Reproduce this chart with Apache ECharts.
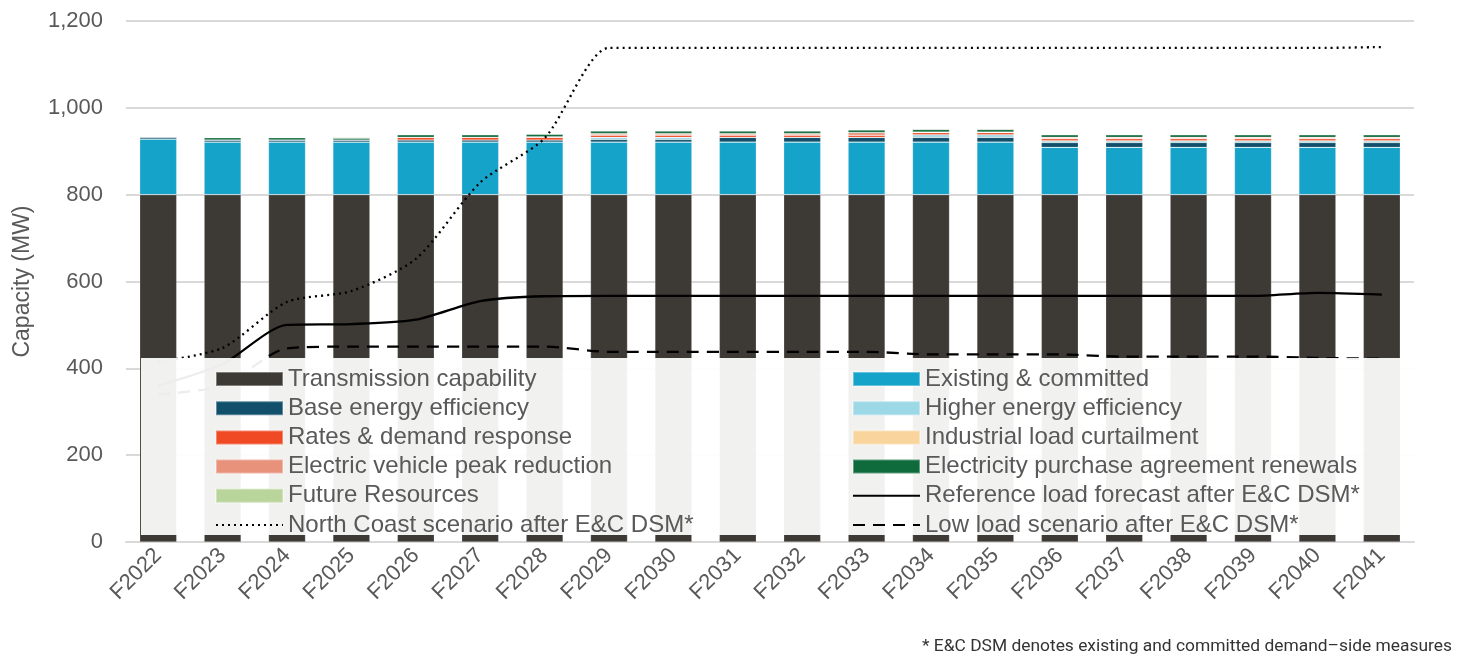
<!DOCTYPE html>
<html>
<head>
<meta charset="utf-8">
<script src="https://cdn.jsdelivr.net/npm/echarts@6/dist/echarts.min.js"></script>
<style>html,body{margin:0;padding:0;background:#fff;}#chart{width:1471px;height:664px;}</style>
</head>
<body>
<div id="chart"></div>
<script>
const categories = ['F2022','F2023','F2024','F2025','F2026','F2027','F2028','F2029','F2030','F2031','F2032','F2033','F2034','F2035','F2036','F2037','F2038','F2039','F2040','F2041'];
const transmission = [800,800,800,800,800,800,800,800,800,800,800,800,800,800,800,800,800,800,800,800];
const existing = [128,121,121,121,121,121,121,121,121,121,121,121,121,121,109,109,109,109,109,109];
const baseEE = [5,5,5,5,5,5,5,6,6,11,11,11,11,11,11,11,11,11,11,11];
const higherEE = [0,0,0,0,0,0,0,5,5,0,0,0,6,6,4,4,4,4,4,4];
const rates = [0,0,0,0,6,6,6,5,5,5,5,5,5,5,5,5,5,5,5,5];
const industrial = [0,0,0,0,0,0,0,1,1,1,1,0,0,0,0,0,0,0,0,0];
const evPeak = [0,0,0,0,0,0,1,3,3,3,3,6,1,1,3,3,3,3,3,3];
const epa = [0,5,5,4,6,6,6,6,6,6,6,6,6,6,6,6,6,6,6,6];
const future = [0,1,1,2,0,0,0,0,0,0,0,1,1,1,0,0,0,0,0,0];
const reference = [360,410,500,502,512,555,566,567,567,567,567,567,567,567,567,567,567,567,574,570];
const northCoast = [415,447,553,578,652,828,930,1138,1138,1138,1138,1138,1138,1138,1138,1138,1138,1138,1138,1140];
const lowLoad = [340,360,446,450,450,450,450,438,438,438,438,438,432,432,432,427,427,427,424,422];
const yTicks = [0,200,400,600,800,1000,1200];

const FONT = '"Liberation Sans", Arial, sans-serif';
const TXT = '#595959';

function bar(name, data, color) {
  return { name, type: 'bar', stack: 'cap', data, barWidth: 37, z: 2,
    itemStyle: { color, borderColor: 'rgba(255,255,255,0.35)', borderWidth: 0.6 },
    emphasis: { disabled: true } };
}
function line(name, data, dash) {
  return { name, type: 'line', data, smooth: 0.25, symbol: 'none', z: 2,
    lineStyle: { color: '#000', width: 2.3, type: dash, cap: dash === 'solid' ? 'butt' : 'butt' },
    itemStyle: { color: '#000' }, emphasis: { disabled: true } };
}
const legendText = { fontSize: 24, fontFamily: FONT, color: TXT, lineHeight: 24 };
const noSym = { opacity: 0 };

const chart = echarts.init(document.getElementById('chart'), null, { renderer: 'canvas' });
chart.setOption({
  animation: false,
  backgroundColor: '#fff',
  grid: { left: 126, right: 57, top: 21, bottom: 122 },
  title: {
    text: '* E&C DSM denotes existing and committed demand\u2013side measures',
    right: 14, bottom: 4,
    textStyle: { fontFamily: 'Roboto, "Noto Sans", sans-serif', fontSize: 17.4, fontWeight: 'normal', color: '#333' }
  },
  xAxis: {
    type: 'category', data: categories,
    axisLine: { lineStyle: { color: '#d9d9d9', width: 2 } },
    axisTick: { show: false },
    axisLabel: { rotate: 45, fontSize: 22, fontFamily: FONT, color: TXT, margin: 10 }
  },
  yAxis: {
    type: 'value', min: yTicks[0], max: yTicks[yTicks.length - 1], interval: 200,
    name: 'Capacity (MW)', nameLocation: 'middle', nameGap: 92, nameRotate: 90,
    nameTextStyle: { fontSize: 23, fontFamily: FONT, color: TXT },
    axisLine: { show: false }, axisTick: { show: false },
    axisLabel: { fontSize: 22, fontFamily: FONT, color: TXT, margin: 23,
      formatter: v => v.toLocaleString('en-US') },
    splitLine: { lineStyle: { color: '#d9d9d9', width: 2 } }
  },
  graphic: { elements: [
    { type: 'rect', z: 3, shape: { x: 141, y: 358, width: 1273, height: 177 },
      style: { fill: 'rgba(255,255,255,0.93)' }, silent: true }
  ]},
  legend: [
    { orient: 'vertical', left: 210, top: 362, itemWidth: 67, itemHeight: 14, itemGap: 5.2, z: 5,
      textStyle: legendText,
      data: [
        { name: 'Transmission capability', icon: 'rect' },
        { name: 'Base energy efficiency', icon: 'rect' },
        { name: 'Rates & demand response', icon: 'rect' },
        { name: 'Electric vehicle peak reduction', icon: 'rect' },
        { name: 'Future Resources', icon: 'rect' },
        { name: 'North Coast scenario after E&C DSM*', itemStyle: noSym }
      ] },
    { orient: 'vertical', left: 847, top: 362, itemWidth: 67, itemHeight: 14, itemGap: 5.2, z: 5,
      textStyle: legendText,
      data: [
        { name: 'Existing & committed', icon: 'rect' },
        { name: 'Higher energy efficiency', icon: 'rect' },
        { name: 'Industrial load curtailment', icon: 'rect' },
        { name: 'Electricity purchase agreement renewals', icon: 'rect' },
        { name: 'Reference load forecast after E&C DSM*', itemStyle: noSym },
        { name: 'Low load scenario after E&C DSM*', itemStyle: noSym }
      ] }
  ],
  series: [
    bar('Transmission capability', transmission, '#3d3935'),
    bar('Existing & committed', existing, '#16a3c9'),
    bar('Base energy efficiency', baseEE, '#114f6b'),
    bar('Higher energy efficiency', higherEE, '#9dd8e6'),
    bar('Rates & demand response', rates, '#ef4a23'),
    bar('Industrial load curtailment', industrial, '#f9d49c'),
    bar('Electric vehicle peak reduction', evPeak, '#e8927c'),
    bar('Electricity purchase agreement renewals', epa, '#0f6b3b'),
    bar('Future Resources', future, '#b9d59c'),
    line('Reference load forecast after E&C DSM*', reference, 'solid'),
    line('North Coast scenario after E&C DSM*', northCoast, [2, 4]),
    line('Low load scenario after E&C DSM*', lowLoad, [12, 8])
  ]
});
</script>
</body>
</html>
